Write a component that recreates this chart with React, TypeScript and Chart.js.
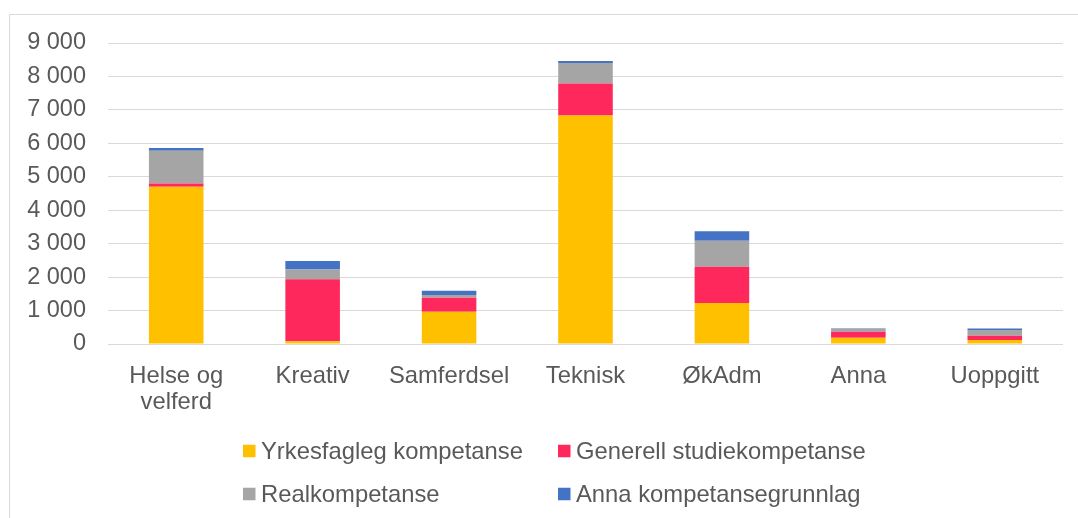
import React, { useEffect, useRef } from "react";
import { Chart, registerables } from "chart.js";

Chart.register(...registerables);

const categories: (string | string[])[] = [
  ["Helse og", "velferd"],
  "Kreativ",
  "Samferdsel",
  "Teknisk",
  "ØkAdm",
  "Anna",
  "Uoppgitt",
];

const seriesNames = [
  "Yrkesfagleg kompetanse",
  "Generell studiekompetanse",
  "Realkompetanse",
  "Anna kompetansegrunnlag",
];

const yrkesfagleg = [4700, 80, 965, 6830, 1225, 190, 120];
const generell = [100, 1855, 420, 960, 1085, 180, 130];
const realkompetanse = [980, 290, 80, 610, 775, 80, 170];
const annaGrunnlag = [80, 260, 130, 60, 290, 10, 40];

const seriesColors = ["#FFC000", "#FF285C", "#A5A5A5", "#4472C4"];

const yMax = 9000;
const yStep = 1000;

const FONT = '"Liberation Sans", Arial, sans-serif';
const TEXT = "#595959";

const fmt = (v: number) =>
  String(v).replace(/\B(?=(\d{3})+(?!\d))/g, " ");

const framePlugin = {
  id: "frame",
  beforeDraw(chart: any) {
    const ctx = chart.ctx;
    ctx.save();
    ctx.fillStyle = "#ffffff";
    ctx.fillRect(0, 0, chart.width, chart.height);
    ctx.strokeStyle = "#d9d9d9";
    ctx.lineWidth = 1;
    ctx.beginPath();
    ctx.moveTo(9.5, chart.height);
    ctx.lineTo(9.5, 14.5);
    ctx.lineTo(chart.width, 14.5);
    ctx.stroke();
    ctx.restore();
  },
};

const legendPlugin = {
  id: "gridLegend",
  afterDraw(chart: any) {
    const ctx = chart.ctx;
    const cols = [243, 558];
    const rows = [451, 494];
    const box = 12.5;
    ctx.save();
    ctx.font = `23.8px ${FONT}`;
    ctx.textBaseline = "middle";
    ctx.textAlign = "left";
    chart.data.datasets.forEach((ds: any, i: number) => {
      const x = cols[i % 2];
      const y = rows[Math.floor(i / 2)];
      ctx.fillStyle = ds.backgroundColor;
      ctx.fillRect(x, y - box / 2, box, box);
      ctx.fillStyle = TEXT;
      ctx.fillText(ds.label, x + 18, y + 1);
    });
    ctx.restore();
  },
};

export default function App() {
  const ref = useRef<HTMLCanvasElement | null>(null);

  useEffect(() => {
    if (!ref.current) return;
    const values = [yrkesfagleg, generell, realkompetanse, annaGrunnlag];
    const chart = new Chart(ref.current, {
      type: "bar",
      data: {
        labels: categories,
        datasets: seriesNames.map((name, i) => ({
          label: name,
          data: values[i],
          backgroundColor: seriesColors[i],
          borderWidth: 0,
          barPercentage: 0.4,
          categoryPercentage: 1,
        })),
      },
      options: {
        responsive: false,
        animation: false,
        devicePixelRatio: 1,
        layout: { padding: { top: 43, left: 0, right: 15, bottom: 94 } },
        plugins: {
          legend: { display: false },
          tooltip: { enabled: false },
        },
        scales: {
          x: {
            stacked: true,
            grid: { display: false },
            border: { display: false },
            afterFit: (s: any) => {
              s.height = 80;
            },
            ticks: {
              color: TEXT,
              padding: 11,
              maxRotation: 0,
              autoSkip: false,
              font: { family: FONT, size: 23.8, lineHeight: 1.1 },
            },
          },
          y: {
            stacked: true,
            min: 0,
            max: yMax,
            afterFit: (s: any) => {
              s.width = 108;
            },
            grid: { color: "#d9d9d9", lineWidth: 1, drawTicks: false },
            border: { display: false },
            ticks: {
              stepSize: yStep,
              color: TEXT,
              padding: 22,
              font: { family: FONT, size: 23.5 },
              callback: (v: any) => fmt(Number(v)),
            },
          },
        },
      },
      plugins: [framePlugin, legendPlugin],
    });
    return () => chart.destroy();
  }, []);

  return (
    <div
      style={{
        position: "absolute",
        left: 0,
        top: 0,
        width: 1078,
        height: 518,
        overflow: "hidden",
      }}
    >
      <canvas ref={ref} width={1078} height={518} style={{ display: "block" }} />
    </div>
  );
}
